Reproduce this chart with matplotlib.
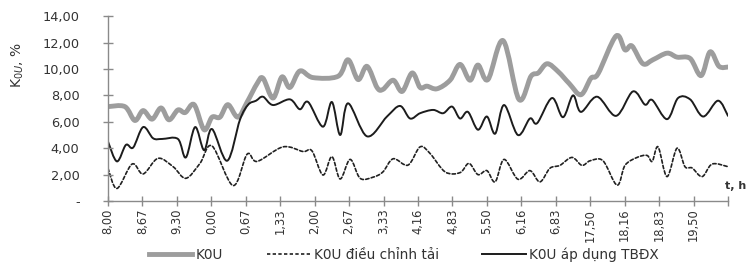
import matplotlib
matplotlib.use("Agg")
import matplotlib.pyplot as plt
from matplotlib.path import Path
from matplotlib.patches import PathPatch
from matplotlib.lines import Line2D
import numpy as np

plt.rcParams['font.family'] = ['DejaVu Sans']

# ---- data (x in tick-interval units, 0 = "8,00") ----
tick_labels = ["8,00", "8,67", "9,30", "0,00", "0,67", "1,33", "2,00", "2,67", "3,33",
               "4,16", "4,83", "5,50", "6,16", "6,83", "17,50", "18,16", "18,83", "19,50", ""]

k0u_x = [0.00, 0.49, 0.78, 1.02, 1.28, 1.54, 1.77, 2.03, 2.24, 2.50, 2.79, 3.02, 3.25, 3.48,
         3.77, 4.04, 4.33, 4.50, 4.79, 5.05, 5.28, 5.57, 5.95, 6.68, 6.97, 7.26, 7.52, 7.81,
         7.98, 8.28, 8.54, 8.83, 9.06, 9.26, 9.55, 9.93, 10.22, 10.51, 10.74, 11.03, 11.47,
         11.93, 12.28, 12.49, 12.75, 13.07, 13.39, 13.73, 14.02, 14.23, 14.75, 15.01, 15.21,
         15.53, 15.82, 16.23, 16.52, 16.90, 17.22, 17.48, 17.74, 18.00]
k0u_y = [7.15, 7.15, 6.10, 6.85, 6.20, 7.05, 6.15, 6.90, 6.70, 7.30, 5.40, 6.35, 6.35, 7.30,
         6.35, 7.50, 8.90, 9.30, 7.80, 9.40, 8.60, 9.85, 9.35, 9.45, 10.70, 9.20, 10.20, 8.60,
         8.45, 9.15, 8.30, 9.70, 8.60, 8.70, 8.50, 9.15, 10.35, 9.15, 10.30, 9.20, 12.15,
         7.70, 9.45, 9.70, 10.40, 9.80, 8.90, 8.05, 9.30, 9.65, 12.50, 11.45, 11.75,
         10.40, 10.70, 11.20, 10.90, 10.80, 9.50, 11.30, 10.20, 10.15]

tai_x = [0.00, 0.26, 0.70, 1.02, 1.45, 1.89, 2.26, 2.67, 3.02, 3.63, 4.04, 4.33, 5.08, 5.66,
         5.92, 6.24, 6.50, 6.74, 7.03, 7.32, 7.69, 7.98, 8.28, 8.71, 9.06, 9.35, 9.79, 10.22,
         10.48, 10.74, 11.00, 11.24, 11.50, 11.90, 12.25, 12.54, 12.83, 13.12, 13.47, 13.76,
         14.00, 14.37, 14.78, 15.01, 15.36, 15.65, 15.80, 15.97, 16.23, 16.52, 16.75, 16.96,
         17.25, 17.54, 18.00]
tai_y = [2.48, 0.95, 2.80, 2.05, 3.23, 2.60, 1.72, 2.85, 4.17, 1.17, 3.55, 3.00, 4.10, 3.75,
         3.80, 1.97, 3.36, 1.67, 3.15, 1.72, 1.80, 2.20, 3.20, 2.72, 4.10, 3.60, 2.20, 2.15,
         2.85, 2.00, 2.30, 1.45, 3.15, 1.65, 2.30, 1.45, 2.48, 2.70, 3.30, 2.70,
         3.05, 3.05, 1.20, 2.70, 3.30, 3.45, 3.00, 4.10, 1.85, 4.00, 2.60, 2.50,
         1.85, 2.80, 2.60]

tbdx_x = [0.00, 0.26, 0.52, 0.73, 1.02, 1.31, 1.57, 2.03, 2.26, 2.53, 2.79, 3.02, 3.46, 3.83,
          4.07, 4.30, 4.50, 4.79, 5.28, 5.57, 5.81, 6.24, 6.50, 6.74, 6.97, 7.52, 8.10, 8.48,
          8.77, 9.06, 9.44, 9.73, 9.99, 10.22, 10.45, 10.74, 11.00, 11.24, 11.50, 11.90, 12.25,
          12.46, 12.89, 13.21, 13.50, 13.73, 14.20, 14.75, 15.24, 15.59, 15.80, 16.23, 16.55,
          16.90, 17.28, 17.71, 18.00]
tbdx_y = [4.50, 3.00, 4.25, 4.05, 5.60, 4.75, 4.70, 4.70, 3.30, 5.60, 3.85, 5.45, 3.05, 6.15,
          7.30, 7.60, 7.90, 7.27, 7.70, 6.95, 7.50, 5.63, 7.50, 5.00, 7.40, 4.90, 6.40, 7.20,
          6.25, 6.65, 6.90, 6.65, 7.15, 6.25, 6.75, 5.40, 6.40, 5.10, 7.27, 5.00, 6.25,
          5.90, 7.80, 6.35, 8.00, 6.75, 7.90, 6.45, 8.30, 7.30, 7.65, 6.20, 7.80,
          7.70, 6.40, 7.60, 6.45]

y_ticks = [0, 2, 4, 6, 8, 10, 12, 14]
y_tick_labels = ["-", "2,00", "4,00", "6,00", "8,00", "10,00", "12,00", "14,00"]

series_names = ["K0U", "K0U điều chỉnh tải", "K0U áp dụng TBĐX"]


def smooth_path(xs, ys):
    """Catmull-Rom style smoothed path (like a spreadsheet smoothed line)."""
    pts = np.column_stack([xs, ys]).astype(float)
    n = len(pts)
    verts = [pts[0]]
    codes = [Path.MOVETO]
    for i in range(n - 1):
        p0 = pts[i - 1] if i > 0 else pts[i]
        p1 = pts[i]
        p2 = pts[i + 1]
        p3 = pts[i + 2] if i + 2 < n else pts[i + 1]
        c1 = p1 + (p2 - p0) / 6.0
        c2 = p2 - (p3 - p1) / 6.0
        verts.extend([c1, c2, p2])
        codes.extend([Path.CURVE4, Path.CURVE4, Path.CURVE4])
    return Path(verts, codes)


W, H = 746, 264
fig = plt.figure(figsize=(W / 100, H / 100), dpi=100)
ax = fig.add_axes([108 / W, 1 - 201 / H, (728 - 108) / W, (201 - 16.2) / H])

gray_c = "#9d9d9d"
styles = [
    dict(color=gray_c, lw=3.5, ls="-"),
    dict(color="#202020", lw=1.2, ls=(0, (2.0, 1.4))),
    dict(color="#1c1c1c", lw=1.4, ls="-"),
]
data = [(k0u_x, k0u_y), (tai_x, tai_y), (tbdx_x, tbdx_y)]

for (xs, ys), st in zip(data, styles):
    patch = PathPatch(smooth_path(xs, ys), facecolor="none", edgecolor=st["color"],
                      lw=st["lw"], linestyle=st["ls"], capstyle="round", joinstyle="round")
    ax.add_patch(patch)

ax.set_xlim(0, 18)
ax.set_ylim(0, 14)

for s in ["top", "right"]:
    ax.spines[s].set_visible(False)
for s in ["left", "bottom"]:
    ax.spines[s].set_color("#8a8a8a")
    ax.spines[s].set_linewidth(1.0)

ax.set_xticks(range(len(tick_labels)))
ax.set_xticklabels(tick_labels, rotation=90, fontsize=8.3, color="#333333")
ax.set_yticks(y_ticks)
ax.set_yticklabels(y_tick_labels, fontsize=9.3, color="#333333")
ax.tick_params(axis="both", direction="inout", length=7, width=1.0, color="#8a8a8a")
ax.tick_params(axis="y", pad=17)
ax.tick_params(axis="x", pad=2)

fig.text(18 / W, 1 - 65 / H, "K$_{0U}$, %", rotation=90, ha="center", va="center",
         fontsize=10, color="#333333")
fig.text(725 / W, 1 - 186 / H, "t, h", ha="left", va="center", fontsize=8,
         fontweight="bold", color="#333333")

handles = [Line2D([0], [0], color=st["color"], lw=st["lw"], ls=st["ls"]) for st in styles]
fig.legend(handles, series_names, loc="center", bbox_to_anchor=(404 / W, 1 - 255 / H),
           ncol=3, frameon=False, fontsize=9.8, handlelength=3.2, handletextpad=0.25,
           columnspacing=3.2, borderpad=0, labelcolor="#333333")

fig.savefig("out.png", dpi=100)
